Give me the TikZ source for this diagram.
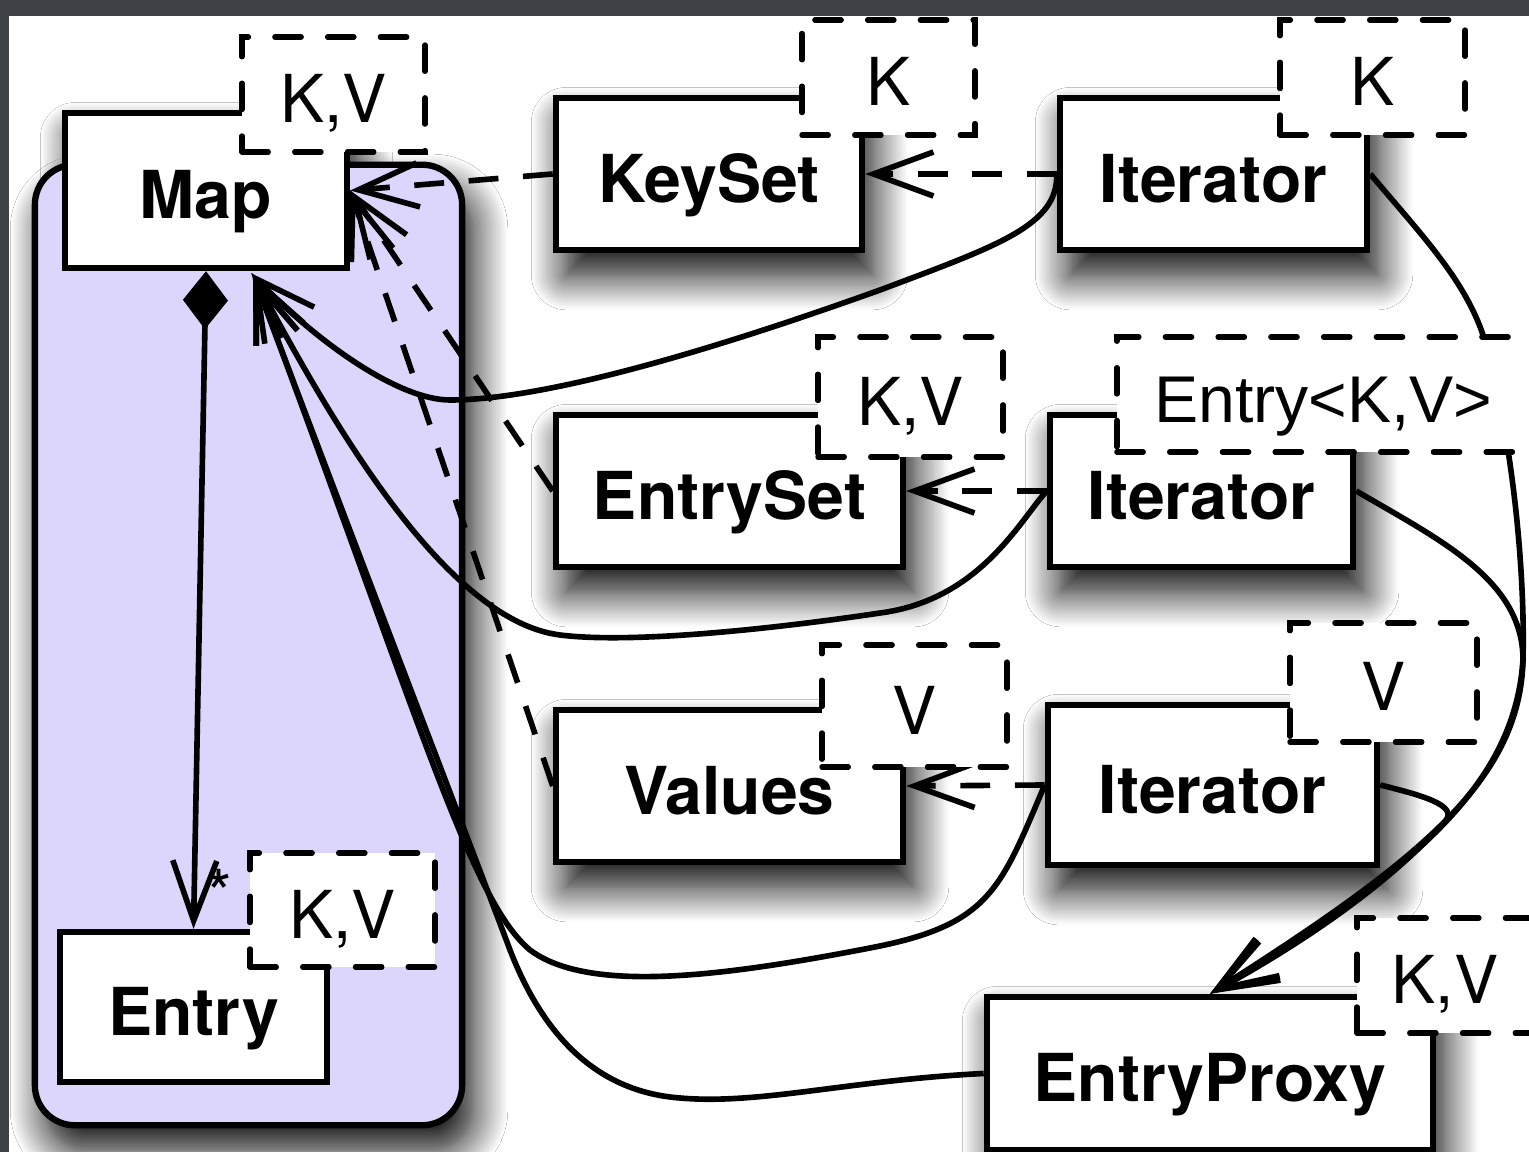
\documentclass[tikz,border=0pt]{standalone}
\usepackage{fontspec}
\setmainfont{TeX Gyre Heros}
\newfontfamily\arialike{Liberation Sans}
\usetikzlibrary{arrows.meta,calc,shadows.blur}
\definecolor{pkgfill}{RGB}{220,214,252}
\definecolor{framegray}{RGB}{62,65,70}

\begin{document}
\begin{tikzpicture}[x=0.01cm,y=-0.01cm,
  every node/.style={inner sep=0pt, font=\fontsize{18.8}{22}\selectfont,
    text height=0.56cm, text depth=0pt},
  boxshadow/.style={blur shadow={shadow xshift=3pt, shadow yshift=-7pt,
    shadow blur radius=10pt, shadow opacity=100, shadow blur steps=16}},
  cls/.style={draw, line width=1.8pt, fill=white,
    font=\fontsize{18.8}{22}\selectfont\bfseries},
  tmpl/.style={draw, line width=1.5pt, fill=white,
    dash pattern=on 7.5pt off 7.5pt, line cap=round},
  barb/.tip={Straight Barb[length=0.6cm,width=0.44cm]},
  conn/.style={line width=1.6pt},
  dep/.style={conn, dash pattern=on 8.5pt off 7pt, -barb},
  assoc/.style={conn, -barb},
  comp/.style={conn, {Diamond[length=0.58cm,width=0.45cm,fill=black]}-barb},
]
% page, frame bands
\useasboundingbox (0,0) rectangle (1529,1152);
\fill[white] (0,0) rectangle (1529,1152);
\fill[framegray] (0,0) rectangle (1529,16);
\fill[framegray] (0,0) rectangle (9,1152);

% shadow of the Map class (lies under the package)
\path[boxshadow] (65,113) rectangle (347,268);

% package holding Map and Entry
\node[draw, line width=1.8pt, fill=pkgfill, rounded corners=0.4cm,
  minimum width=4.27cm, minimum height=9.6cm, boxshadow] (pkg) at (248.5,645) {};

% classes
\node[cls, minimum width=2.82cm, minimum height=1.55cm] (Map) at (206,190.5) {Map};
\node[cls, minimum width=2.67cm, minimum height=1.50cm] (Entry) at (193.5,1007) {Entry};
\node[cls, boxshadow, minimum width=3.06cm, minimum height=1.52cm] (KeySet) at (709,174) {KeySet};
\node[cls, boxshadow, minimum width=3.07cm, minimum height=1.52cm] (ItK) at (1213.5,174) {Iterator};
\node[cls, boxshadow, minimum width=3.47cm, minimum height=1.52cm] (EntrySet) at (729.5,491) {EntrySet};
\node[cls, boxshadow, minimum width=3.03cm, minimum height=1.52cm] (ItE) at (1201.5,491) {Iterator};
\node[cls, boxshadow, minimum width=3.47cm, minimum height=1.52cm] (Values) at (729.5,786) {Values};
\node[cls, boxshadow, minimum width=3.29cm, minimum height=1.60cm] (ItV) at (1212.5,785) {Iterator};
\node[cls, boxshadow, minimum width=4.46cm, minimum height=1.53cm] (Proxy) at (1210,1073.5) {EntryProxy};

% composition Map -> Entry
\draw[comp] (Map.south) -- (Entry.north);
\node (mult) at (219,889) {*};

% dependencies (dashed)
\draw[dep] (KeySet.west) -- (Map.east);
\draw[dep] (EntrySet.west) -- (Map.east);
\draw[dep] (Values.west) -- (Map.east);
\draw[dep] (ItK.west) -- (KeySet.east);
\draw[dep] (ItE.west) -- (EntrySet.east);
\draw[dep] (ItV.west) -- (Values.east);

% associations back to Map
\draw[assoc] (ItK.west) .. controls (1058,225) and (1000,245) .. (880,290)
  .. controls (760,333) and (560,400) .. (450,400)
  .. controls (400,400) and (320,345) .. ($(Map.south)+(45,2)$);
\draw[assoc] (ItE.west) .. controls (1020,520) and (980,600) .. (880,613)
  .. controls (800,625) and (640,645) .. (560,635)
  .. controls (440,620) and (320,400) .. ($(Map.south)+(46,2)$);
\draw[assoc] (ItV.west) .. controls (1000,890) and (990,925) .. (870,948)
  .. controls (730,975) and (590,995) .. (530,950)
  .. controls (470,900) and (420,720) .. ($(Map.south)+(47,3)$);
\draw[assoc] (Proxy.west) .. controls (850,1080) and (760,1105) .. (680,1098)
  .. controls (600,1092) and (545,1040) .. (510,950)
  .. controls (480,870) and (330,480) .. ($(Map.south)+(47,3)$);

% associations to EntryProxy
\draw[assoc] (ItK.east) .. controls (1430,245) and (1475,290) .. (1490,360)
  .. controls (1515,460) and (1525,580) .. (1523,660)
  .. controls (1520,780) and (1420,860) .. (Proxy.north);
\draw[assoc] (ItE.east) .. controls (1440,540) and (1523,580) .. (1523,660)
  .. controls (1514,792) and (1402,876) .. (Proxy.north);
\draw[assoc] (ItV.east) .. controls (1420,795) and (1460,805) .. (1444.75,821.9)
  .. controls (1386,886) and (1304,942) .. (Proxy.north);

% template parameter boxes
\node[tmpl, minimum width=1.83cm, minimum height=1.15cm] (MapT) at (333.5,94.5) {K,V};
\node[tmpl, minimum width=1.85cm, minimum height=1.14cm] (EntryT) at (342.5,910) {K,V};
\node[tmpl, minimum width=1.73cm, minimum height=1.15cm] (KeySetT) at (888.5,77.5) {K};
\node[tmpl, minimum width=1.85cm, minimum height=1.15cm] (ItKT) at (1372.5,77.5) {K};
\node[tmpl, minimum width=1.85cm, minimum height=1.20cm] (EntrySetT) at (910.5,397) {K,V};
\node[tmpl, minimum width=4.28cm, minimum height=1.15cm,
  font=\fontsize{18.8}{22}\selectfont\arialike] (ItET) at (1331,394.5) {\hspace*{-0.15cm}Entry<K,V>};
\node[tmpl, minimum width=1.85cm, minimum height=1.22cm] (ValuesT) at (914.5,706) {V};
\node[tmpl, minimum width=1.87cm, minimum height=1.19cm] (ItVT) at (1383.5,682.5) {V};
\node[tmpl, minimum width=1.88cm, minimum height=1.15cm] (ProxyT) at (1451,975.5) {\hspace*{-0.12cm}K,V};
\end{tikzpicture}
\end{document}
